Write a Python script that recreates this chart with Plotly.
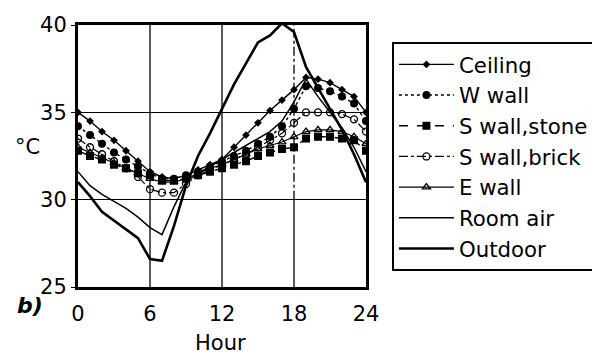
import plotly.graph_objects as go

hours = list(range(25))

ceiling = [35.0, 34.5, 33.9, 33.4, 32.8, 32.2, 31.6, 31.3, 31.2, 31.4, 31.7, 32.0, 32.3,
           33.0, 33.7, 34.4, 35.1, 35.7, 36.3, 37.0, 36.9, 36.7, 36.3, 35.9, 35.0]
w_wall = [34.2, 33.7, 33.2, 32.7, 32.3, 31.9, 31.5, 31.2, 31.2, 31.4, 31.6, 31.9, 32.2,
          32.5, 32.8, 33.2, 33.6, 34.2, 35.2, 36.5, 36.4, 36.2, 35.9, 35.5, 34.5]
s_stone = [32.8, 32.5, 32.3, 32.0, 31.8, 31.5, 31.4, 31.1, 31.1, 31.2, 31.4, 31.6, 31.8,
           32.0, 32.2, 32.5, 32.7, 32.9, 33.0, 33.5, 33.6, 33.6, 33.5, 33.4, 32.8]
s_brick = [33.5, 33.0, 32.6, 32.2, 31.8, 31.3, 30.6, 30.4, 30.4, 30.9, 31.4, 31.7, 32.0,
           32.3, 32.6, 33.0, 33.4, 33.8, 34.4, 35.0, 35.0, 35.0, 34.9, 34.6, 33.9]
e_wall = [33.0, 32.7, 32.4, 32.1, 31.8, 31.5, 31.2, 31.0, 31.0, 31.2, 31.5, 31.8, 32.0,
          32.3, 32.6, 32.9, 33.1, 33.3, 33.6, 33.9, 34.0, 34.0, 33.9, 33.6, 33.2]
room_air = [31.6, 30.8, 30.3, 29.9, 29.5, 29.0, 28.4, 28.0, 29.6, 31.0, 31.5, 31.9, 32.3,
            32.7, 33.1, 33.5, 33.9, 34.5, 35.6, 36.9, 35.9, 35.0, 34.1, 33.0, 31.6]
outdoor = [31.0, 30.2, 29.3, 28.8, 28.3, 27.8, 26.6, 26.5, 28.5, 30.8, 32.5, 33.8, 35.2,
           36.6, 37.8, 39.0, 39.4, 40.1, 39.6, 37.6, 36.4, 35.2, 34.0, 32.6, 31.0]

x_ticks = [0, 6, 12, 18, 24]
y_ticks = [25, 30, 35, 40]

FONT = "DejaVu Sans"
K = "black"

series = [
    ("Ceiling", ceiling, dict(width=1.4, dash="solid"), dict(symbol="diamond", size=6, color=K)),
    ("W wall", w_wall, dict(width=1.4, dash="dot"), dict(symbol="circle", size=8, color=K)),
    ("S wall,stone", s_stone, dict(width=1.4, dash="dash"), dict(symbol="square", size=8, color=K)),
    ("S wall,brick", s_brick, dict(width=1.2, dash="dashdot"),
     dict(symbol="circle-open", size=7, color=K, line=dict(width=1.3, color=K))),
    ("E wall", e_wall, dict(width=1.2, dash="solid"),
     dict(symbol="triangle-up-open", size=7, color=K, line=dict(width=1.3, color=K))),
    ("Room air", room_air, dict(width=1.5, dash="solid"), None),
    ("Outdoor", outdoor, dict(width=2.6, dash="solid"), None),
]

fig = go.Figure()
for name, vals, ln, mk in series:
    ln = dict(ln, color=K)
    if mk is None:
        fig.add_trace(go.Scatter(x=hours, y=vals, name=name, mode="lines", line=ln))
    else:
        fig.add_trace(go.Scatter(x=hours, y=vals, name=name, mode="lines+markers",
                                 line=ln, marker=mk))

# page body adds an 8px margin, so the figure is 8px smaller and the margins shifted
fig.update_layout(
    width=592, height=348,
    margin=dict(l=70, r=234, t=17, b=69, autoexpand=False),
    paper_bgcolor="white", plot_bgcolor="white",
    font=dict(family=FONT, size=21, color=K),
    legend=dict(x=1.09, y=0.935, xanchor="left", yanchor="top",
                bordercolor=K, borderwidth=2, bgcolor="white",
                font=dict(family=FONT, size=21.3, color=K),
                itemwidth=55),
    showlegend=True,
)
fig.update_xaxes(range=[0, 24], tickvals=x_ticks, showgrid=False, automargin=False,
                 showline=True, linecolor=K, linewidth=3, mirror=True,
                 ticks="", zeroline=False, ticklabelstandoff=6,
                 tickfont=dict(family=FONT, size=21, color=K))
fig.update_yaxes(range=[25, 40], tickvals=y_ticks, showgrid=True, gridcolor=K, gridwidth=1.3,
                 showline=True, linecolor=K, linewidth=3, mirror=True, automargin=False,
                 ticks="outside", ticklen=4, tickcolor=K, zeroline=False,
                 tickfont=dict(family=FONT, size=21, color=K))

# vertical grid lines; the one at 18 h is broken (dotted) in its upper part
for xv in x_ticks[1:-1]:
    if xv == 18:
        fig.add_shape(type="line", xref="x", yref="y", x0=xv, x1=xv, y0=y_ticks[1], y1=y_ticks[-1],
                      line=dict(color=K, width=1.3, dash="dashdot"), layer="below")
        fig.add_shape(type="line", xref="x", yref="y", x0=xv, x1=xv, y0=y_ticks[0], y1=y_ticks[1],
                      line=dict(color=K, width=1.3), layer="below")
    else:
        fig.add_shape(type="line", xref="x", yref="y", x0=xv, x1=xv, y0=y_ticks[0], y1=y_ticks[-1],
                      line=dict(color=K, width=1.3), layer="below")

fig.add_annotation(text="°C", xref="paper", yref="paper", x=-0.177, y=0.534,
                   xanchor="center", yanchor="middle",
                   showarrow=False, font=dict(family=FONT, size=21, color=K))
fig.add_annotation(text="Hour", xref="paper", yref="paper", x=0.495, y=-0.214,
                   xanchor="center", yanchor="middle",
                   showarrow=False, font=dict(family=FONT, size=21, color=K))
fig.add_annotation(text="<b><i>b)</i></b>", xref="paper", yref="paper", x=-0.165, y=-0.07,
                   xanchor="center", yanchor="middle",
                   showarrow=False, font=dict(family=FONT, size=22, color=K))

fig.write_html("out.html")
